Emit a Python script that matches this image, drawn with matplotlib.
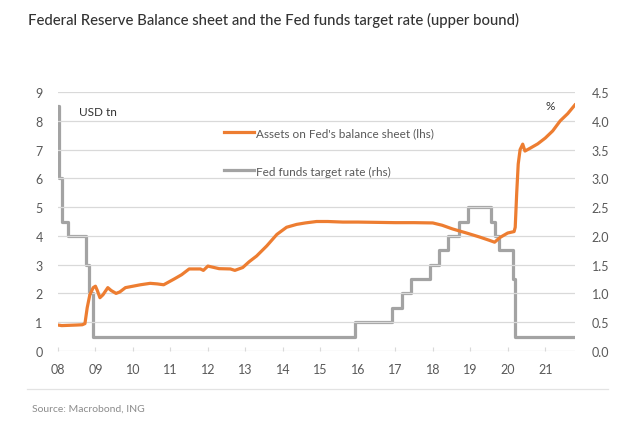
import matplotlib
matplotlib.use("Agg")
import matplotlib.pyplot as plt

plt.rcParams["font.family"] = ["Lato", "DejaVu Sans"]

# Fed balance sheet assets, USD tn (lhs)
bs_year = [2008.00, 2008.10, 2008.30, 2008.50, 2008.65, 2008.72, 2008.78, 2008.85,
           2008.94, 2009.00, 2009.05, 2009.12, 2009.20, 2009.33, 2009.42, 2009.55,
           2009.65, 2009.80, 2010.00, 2010.20, 2010.46, 2010.65, 2010.82, 2011.10,
           2011.30, 2011.50, 2011.80, 2011.88, 2012.00, 2012.10, 2012.30, 2012.60,
           2012.72, 2012.93, 2013.10, 2013.30, 2013.57, 2013.84, 2014.10, 2014.37,
           2014.60, 2014.90, 2015.20, 2015.60, 2016.00, 2016.50, 2017.00, 2017.50,
           2018.00, 2018.25, 2018.53, 2018.90, 2019.25, 2019.50, 2019.65, 2019.80,
           2020.00, 2020.17, 2020.20, 2020.24, 2020.28, 2020.33, 2020.40, 2020.46,
           2020.60, 2020.80, 2021.00, 2021.20, 2021.40, 2021.60, 2021.79]
bs_value = [0.90, 0.88, 0.89, 0.90, 0.91, 0.95, 1.50, 1.95,
            2.20, 2.25, 2.10, 1.85, 1.95, 2.20, 2.10, 2.00,
            2.05, 2.20, 2.25, 2.30, 2.35, 2.33, 2.30, 2.50,
            2.65, 2.85, 2.85, 2.80, 2.95, 2.92, 2.86, 2.85,
            2.80, 2.90, 3.10, 3.30, 3.65, 4.05, 4.30, 4.40,
            4.45, 4.50, 4.50, 4.48, 4.48, 4.47, 4.46, 4.46,
            4.45, 4.37, 4.24, 4.10, 3.96, 3.85, 3.78, 3.95,
            4.10, 4.15, 4.30, 5.50, 6.50, 7.00, 7.19, 6.95,
            7.05, 7.20, 7.40, 7.65, 8.00, 8.25, 8.55]

# Fed funds target rate, upper bound, % (rhs)
ff_year = [2008.00, 2008.03, 2008.10, 2008.27, 2008.75, 2008.83, 2008.93,
           2015.93, 2016.90, 2017.17, 2017.42, 2017.92, 2018.17, 2018.40,
           2018.69, 2018.93, 2019.55, 2019.65, 2019.76, 2020.14, 2020.19, 2021.79]
ff_rate = [4.25, 3.00, 2.25, 2.00, 1.50, 1.00, 0.25,
           0.50, 0.75, 1.00, 1.25, 1.50, 1.75, 2.00,
           2.25, 2.50, 2.25, 2.00, 1.75, 1.25, 0.25, 0.25]

year_ticks = list(range(2008, 2022))
year_labels = [f"{y % 100:02d}" for y in year_ticks]
lhs_ticks = list(range(0, 10))
rhs_ticks = [0.0, 0.5, 1.0, 1.5, 2.0, 2.5, 3.0, 3.5, 4.0, 4.5]

orange = "#ED7D31"
grey = "#A3A3A3"
text_c = "#595959"

fig = plt.figure(figsize=(6.3, 4.35), dpi=100)
ax = fig.add_axes([0.092, 0.191, 0.821, 0.595])
ax2 = ax.twinx()

ax.set_zorder(ax2.get_zorder() + 1)
ax.patch.set_visible(False)

l1, = ax.plot(bs_year, bs_value, color=orange, lw=2.3, zorder=3,
              label="Assets on Fed's balance sheet (lhs)")
l2, = ax2.plot(ff_year, ff_rate, color=grey, lw=2.3, drawstyle="steps-post",
               label="Fed funds target rate (rhs)")

ax.set_xlim(2008, 2021.8)
ax.set_ylim(0, 9)
ax2.set_ylim(0, 4.5)
ax.set_yticks(lhs_ticks)
ax2.set_yticks(rhs_ticks)
ax2.set_yticklabels([f"{v:.1f}" for v in rhs_ticks])
ax.set_xticks(year_ticks)
ax.set_xticklabels(year_labels)

for a in (ax, ax2):
    for s in a.spines.values():
        s.set_visible(False)
    a.tick_params(length=0, labelsize=9, labelcolor=text_c)
ax.tick_params(axis="y", pad=11)
ax2.tick_params(axis="y", pad=12)
ax.tick_params(axis="x", length=3, direction="in", color="#D9D9D9", pad=9)
ax.grid(axis="y", color="#D9D9D9", lw=0.9)
ax.set_axisbelow(True)

ax.text(2008.55, 8.2, "USD tn", fontsize=8.5, color="#333333")
ax.text(2021.0, 8.4, "%", fontsize=8.5, color="#333333")

ax.legend(handles=[l1, l2], loc="upper left", bbox_to_anchor=(0.30, 0.905),
          frameon=False, fontsize=8.5, labelcolor=text_c, handlelength=2.6,
          handletextpad=0.1, labelspacing=2.3)

fig.text(0.044, 0.952, "Federal Reserve Balance sheet and the Fed funds target rate (upper bound)",
         fontsize=10.7, color="#333333", va="center", fontweight="medium")
fig.add_artist(plt.Line2D([0.043, 0.965], [0.103, 0.103], color="#E3E3E3", lw=0.9))
fig.text(0.05, 0.06, "Source: Macrobond, ING", fontsize=7.5, color="#8C8C8C", va="center")

fig.savefig("out.png", dpi=100, facecolor="white")
